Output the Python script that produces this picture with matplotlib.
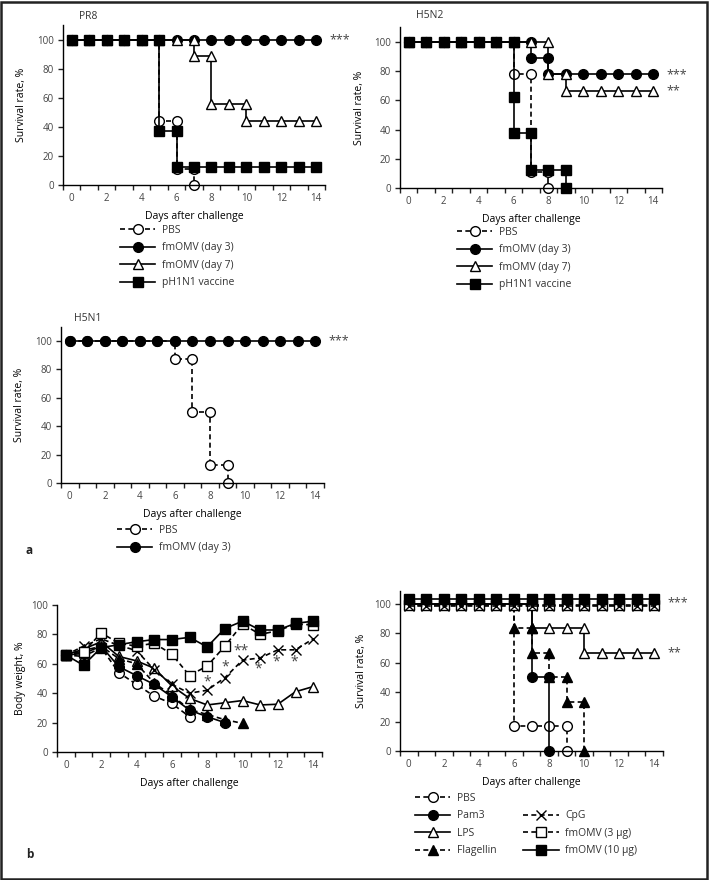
import numpy as np
import matplotlib.pyplot as plt
from matplotlib.lines import Line2D
from matplotlib.patches import Rectangle

plt.rcParams['font.family'] = ['Open Sans', 'DejaVu Sans']
plt.rcParams['font.size'] = 7
plt.rcParams['text.color'] = '#333333'
plt.rcParams['xtick.color'] = '#222222'
plt.rcParams['ytick.color'] = '#222222'
plt.rcParams['xtick.labelcolor'] = '#444444'
plt.rcParams['ytick.labelcolor'] = '#444444'

# ---- data: survival (%), repeated day = drop on that day ----
pr8_pbs_x = [0, 1, 2, 3, 4, 5, 5, 6, 6, 7, 7]
pr8_pbs_y = [100, 100, 100, 100, 100, 100, 44.4, 44.4, 11.1, 11.1, 0]
pr8_d3_x = list(range(15))
pr8_d3_y = [100] * 15
pr8_d7_x = [0, 1, 2, 3, 4, 5, 6, 7, 7, 8, 8, 9, 10, 10, 11, 12, 13, 14]
pr8_d7_y = [100] * 8 + [88.9] * 2 + [55.6] * 3 + [44.4] * 5
pr8_vac_x = [0, 1, 2, 3, 4, 5, 5, 6, 6, 7, 8, 9, 10, 11, 12, 13, 14]
pr8_vac_y = [100] * 6 + [37.5] * 2 + [12.5] * 9

h5n2_pbs_x = [0, 1, 2, 3, 4, 5, 6, 6, 7, 7, 8, 8]
h5n2_pbs_y = [100] * 7 + [77.8] * 2 + [11.1] * 2 + [0]
h5n2_d3_x = [0, 1, 2, 3, 4, 5, 6, 7, 7, 8, 8, 9, 10, 11, 12, 13, 14]
h5n2_d3_y = [100] * 8 + [88.9] * 2 + [77.8] * 7
h5n2_d7_x = [0, 1, 2, 3, 4, 5, 6, 7, 8, 8, 9, 9, 10, 11, 12, 13, 14]
h5n2_d7_y = [100] * 9 + [77.8] * 2 + [66.7] * 6
h5n2_vac_x = [0, 1, 2, 3, 4, 5, 6, 6, 6, 7, 7, 8, 9, 9]
h5n2_vac_y = [100] * 7 + [62.5, 37.5, 37.5, 12.5, 12.5, 12.5, 0]

h5n1_pbs_x = [0, 1, 2, 3, 4, 5, 6, 6, 7, 7, 8, 8, 9, 9]
h5n1_pbs_y = [100] * 7 + [87.5, 87.5, 50, 50, 12.5, 12.5, 0]
h5n1_d3_x = list(range(15))
h5n1_d3_y = [100] * 15

# panel b survival (top lines slightly offset as in the figure)
b_pbs_x = [0, 1, 2, 3, 4, 5, 6, 6, 7, 8, 9, 9]
b_pbs_y = [100] * 7 + [16.7] * 4 + [0]
b_pam3_x = [0, 1, 2, 3, 4, 5, 6, 7, 7, 8, 8]
b_pam3_y = [100] * 8 + [50, 50, 0]
b_lps_x = [0, 1, 2, 3, 4, 5, 6, 7, 7, 8, 9, 10, 10, 11, 12, 13, 14]
b_lps_y = [100] * 8 + [83.3] * 4 + [66.7] * 5
b_flag_x = [0, 1, 2, 3, 4, 5, 6, 6, 7, 7, 8, 8, 9, 9, 10, 10]
b_flag_y = [100] * 7 + [83.3, 83.3, 66.7, 66.7, 50, 50, 33.3, 33.3, 0]
b_cpg_x = list(range(15))
b_cpg_y = [98.5] * 15
b_omv3_x = list(range(15))
b_omv3_y = [99.0] * 15
b_omv10_x = list(range(15))
b_omv10_y = [103.5] * 15

# panel b body weight (%)
bw_pbs = [66, 65, 71, 54, 46, 38, 33, 24]
bw_pam3 = [66, 67, 72, 58, 52, 46, 37.5, 28.5, 24, 20]
bw_lps = [66, 70, 75, 65, 62, 57, 45, 36.5, 32, 33.5, 35, 32, 32.5, 41, 44.5]
bw_flag = [66, 69, 72, 63.5, 60, 47, 38.5, 29, 25.5, 22, 19.5]
bw_cpg = [66, 72, 77, 72.5, 69, 56, 46, 40, 42, 50.5, 62.5, 64, 69.5, 69.5, 77]
bw_omv3 = [66, 68, 81, 74, 72, 74, 66.5, 52, 58.5, 72, 87, 80, 82.5, 87, 86.5]
bw_omv10 = [66, 59, 71, 73, 75, 76.5, 76.5, 78, 71.5, 84, 89, 83, 83, 87.5, 89]
bw_star_x = [8, 9, 9.9, 10.9, 11.9, 12.9]
bw_star_y = [47.5, 57.5, 69, 56.5, 61.5, 61.5]
bw_star_txt = ['*', '*', '**', '*', '*', '*']

# ---- styles ----
dash = (0, (3, 2))
ST = {
  'PBS': dict(ls=dash, marker='o', mfc='white'),
  'fmOMV (day 3)': dict(ls='-', marker='o', mfc='black'),
  'fmOMV (day 7)': dict(ls='-', marker='^', mfc='white'),
  'pH1N1 vaccine': dict(ls='-', marker='s', mfc='black'),
  'Pam3': dict(ls='-', marker='o', mfc='black'),
  'LPS': dict(ls='-', marker='^', mfc='white'),
  'Flagellin': dict(ls=dash, marker='^', mfc='black'),
  'CpG': dict(ls=dash, marker='x', mfc='black'),
  'fmOMV (3 \u00b5g)': dict(ls=dash, marker='s', mfc='white'),
  'fmOMV (10 \u00b5g)': dict(ls='-', marker='s', mfc='black'),
}

W, H = 709, 880
fig = plt.figure(figsize=(W / 100, H / 100), dpi=100)


def add_ax(left, right, y0, ytop):
  return fig.add_axes([left / W, 1 - y0 / H, (right - left) / W, (y0 - ytop) / H])


def curve(ax, x, y, label):
  st = ST[label]
  ms = 7.5 if st['marker'] == '^' else 7
  ax.plot(x, y, color='black', lw=1.2, ls=st['ls'], marker=st['marker'],
          mfc=st['mfc'], mec='black', mew=1.0, ms=ms, label=label, clip_on=False)


def style(ax, ymax, ylabel, ylab_px):
  ax.set_xlim(-0.5, 14.5)
  ax.set_ylim(0, ymax)
  for s in ['top', 'right']:
    ax.spines[s].set_visible(False)
  for s in ['left', 'bottom']:
    ax.spines[s].set_linewidth(1.0)
  ax.set_xticks(range(0, 15, 2))
  ax.set_xticks(np.arange(-0.5, 15, 1), minor=True)
  ax.tick_params(axis='x', which='major', length=0, pad=5.5)
  ax.tick_params(axis='x', which='minor', length=3.5, width=1.0, direction='out')
  ax.set_yticks(range(0, 101, 20))
  ax.tick_params(axis='y', length=3.5, width=1.0, pad=3)
  ax.set_xlabel('Days after challenge', fontsize=7.5)
  ax.set_ylabel(ylabel, fontsize=7.5)
  pos = ax.get_position()
  ax.xaxis.set_label_coords(0.5, -26 / (pos.height * H))
  ax.yaxis.set_label_coords((ylab_px - pos.x0 * W) / (pos.width * W), 0.5)


def legend(ax, handles, x, y, ncol=1):
  h, l = handles
  ax.legend(h, l, loc='upper left', bbox_to_anchor=(x / W, 1 - y / H),
            bbox_transform=fig.transFigure, frameon=False, fontsize=7.5,
            borderpad=0, borderaxespad=0, handlelength=3.4, handletextpad=0.6,
            labelspacing=0.62, numpoints=1, ncol=ncol, columnspacing=2.6)


def stars(ax, y, txt):
  ax.text(14.75, y, txt, fontsize=9, va='center', ha='left', color='#444444', clip_on=False)


# ---- a: PR8 ----
ax = add_ax(63, 325, 185, 25.5)
curve(ax, pr8_pbs_x, pr8_pbs_y, 'PBS')
curve(ax, pr8_d3_x, pr8_d3_y, 'fmOMV (day 3)')
curve(ax, pr8_d7_x, pr8_d7_y, 'fmOMV (day 7)')
curve(ax, pr8_vac_x, pr8_vac_y, 'pH1N1 vaccine')
style(ax, 110, 'Survival rate, %', 27)
ax.text(0.06, 1.02, 'PR8', transform=ax.transAxes, fontsize=7.5, va='bottom')
stars(ax, 100, '***')
legend(ax, ax.get_legend_handles_labels(), 120, 225)

# ---- a: H5N2 ----
ax = add_ax(400, 662, 188, 27.4)
curve(ax, h5n2_pbs_x, h5n2_pbs_y, 'PBS')
curve(ax, h5n2_d3_x, h5n2_d3_y, 'fmOMV (day 3)')
curve(ax, h5n2_d7_x, h5n2_d7_y, 'fmOMV (day 7)')
curve(ax, h5n2_vac_x, h5n2_vac_y, 'pH1N1 vaccine')
style(ax, 110, 'Survival rate, %', 365)
ax.text(0.06, 1.04, 'H5N2', transform=ax.transAxes, fontsize=7.5, va='bottom')
stars(ax, 77.8, '***')
stars(ax, 66.7, '**')
legend(ax, ax.get_legend_handles_labels(), 457, 227)

# ---- a: H5N1 ----
ax = add_ax(61, 324, 483, 326.8)
curve(ax, h5n1_pbs_x, h5n1_pbs_y, 'PBS')
curve(ax, h5n1_d3_x, h5n1_d3_y, 'fmOMV (day 3)')
style(ax, 110, 'Survival rate, %', 25)
ax.text(0.05, 1.02, 'H5N1', transform=ax.transAxes, fontsize=7.5, va='bottom')
stars(ax, 100, '***')
legend(ax, ax.get_legend_handles_labels(), 117, 525)
fig.text(25 / W, 1 - 551 / H, 'a', fontsize=8.5, fontweight='bold', va='center', color='#222222')

# ---- b: body weight ----
ax = add_ax(57, 322, 752, 605)
days = np.arange(15)
curve(ax, days[:len(bw_pbs)], bw_pbs, 'PBS')
curve(ax, days[:len(bw_pam3)], bw_pam3, 'Pam3')
curve(ax, days[:len(bw_lps)], bw_lps, 'LPS')
curve(ax, days[:len(bw_flag)], bw_flag, 'Flagellin')
curve(ax, days[:len(bw_cpg)], bw_cpg, 'CpG')
curve(ax, days[:len(bw_omv3)], bw_omv3, 'fmOMV (3 \u00b5g)')
curve(ax, days[:len(bw_omv10)], bw_omv10, 'fmOMV (10 \u00b5g)')
style(ax, 100, 'Body weight, %', 26)
for sx, sy, st in zip(bw_star_x, bw_star_y, bw_star_txt):
  ax.text(sx, sy, st, fontsize=10, ha='center', va='center', color='#444444')

# ---- b: survival ----
ax = add_ax(400, 663, 751, 590.7)
curve(ax, b_pbs_x, b_pbs_y, 'PBS')
curve(ax, b_pam3_x, b_pam3_y, 'Pam3')
curve(ax, b_lps_x, b_lps_y, 'LPS')
curve(ax, b_flag_x, b_flag_y, 'Flagellin')
curve(ax, b_omv3_x, b_omv3_y, 'fmOMV (3 \u00b5g)')
curve(ax, b_cpg_x, b_cpg_y, 'CpG')
curve(ax, b_omv10_x, b_omv10_y, 'fmOMV (10 \u00b5g)')
style(ax, 109, 'Survival rate, %', 367)
stars(ax, 100.5, '***')
stars(ax, 66.7, '**')
hd = dict(zip(*ax.get_legend_handles_labels()[::-1]))
blank = Line2D([], [], ls='none', marker='none')
order = ['PBS', 'Pam3', 'LPS', 'Flagellin', None, 'CpG', 'fmOMV (3 \u00b5g)', 'fmOMV (10 \u00b5g)']
legend(ax, ([hd[k] if k else blank for k in order], [k if k else ' ' for k in order]), 415, 793, ncol=2)
fig.text(26 / W, 1 - 854 / H, 'b', fontsize=8.5, fontweight='bold', va='center', color='#222222')

fig.add_artist(Rectangle((0.0015, 0.0015), 0.996, 0.996, transform=fig.transFigure,
                         fill=False, lw=1.8, edgecolor='#222222'))

fig.savefig('out.png', dpi=100)
